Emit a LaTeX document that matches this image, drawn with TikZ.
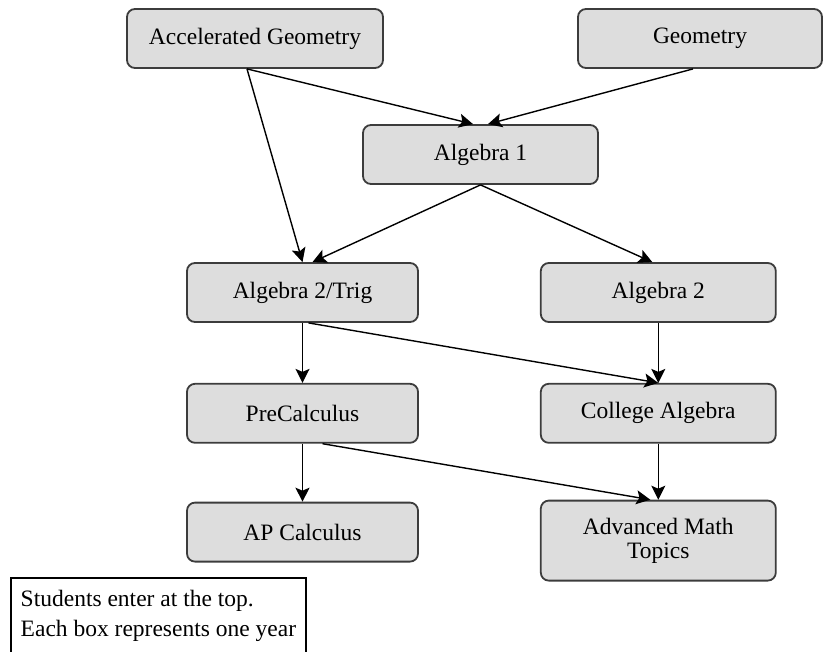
\documentclass[tikz,border=0pt]{standalone}
\usepackage{fontspec}
\setmainfont{Liberation Serif}
\usepackage{tikz}
\usetikzlibrary{positioning,arrows.meta}
\definecolor{boxgray}{RGB}{221,221,221}
\definecolor{edgegray}{RGB}{60,60,60}

\begin{document}
\begin{tikzpicture}[
    x=0.5pt, y=-0.5pt,
    node distance=30pt,
    course/.style={rectangle, rounded corners=4pt, draw=edgegray, line width=0.9pt, fill=boxgray, minimum width=115.5pt, minimum height=29.5pt, inner sep=0pt, align=center, font=\fontsize{11.75}{12}\selectfont},
    notebox/.style={rectangle, draw=black, line width=0.9pt, anchor=north west, minimum width=147.5pt, inner xsep=3pt, inner ysep=6pt, text depth=20pt, align=left, font=\fontsize{11.75}{15}\selectfont},
    arrow/.style={-{Stealth[length=7pt,width=7pt,inset=1.5pt]}, line width=0.7pt}
]
    \useasboundingbox (0,0) rectangle (825,652);

    % Entry courses
    \node[course, minimum width=128pt] (accgeo) at (255,38.5) {Accelerated Geometry};
    \node[course, minimum width=122pt] (geo) at (700,38.5) {Geometry};
    \node[course, minimum width=117.5pt] (algone) at (480.5,154.5) {Algebra 1};

    % Second year
    \node[course] (algtrig) at (302.5,292.5) {Algebra 2/Trig};
    \node[course, minimum width=117.5pt, right=60.5pt of algtrig] (algtwo) {Algebra 2};

    % Third year
    \node[course, below=30pt of algtrig] (precalc) {PreCalculus};
    \node[course, minimum width=117.5pt, below=30pt of algtwo] (colalg) {College Algebra};

    % Last year
    \node[course, below=29pt of precalc] (apcalc) {AP Calculus};
    \node[course, minimum width=117.5pt, minimum height=40pt, below=28pt of colalg] (advmath) {Advanced Math\\Topics};

    % Note
    \node[notebox] (note) at (10,577) {Students enter at the top.\\Each box represents one year};

    % Arrows
    \draw[arrow] ([xshift=-4pt]accgeo.south) -- ([xshift=-3.75pt]algone.north);
    \draw[arrow] ([xshift=-4pt]accgeo.south) -- (algtrig.north);
    \draw[arrow] ([xshift=-3.5pt]geo.south) -- ([xshift=3.75pt]algone.north);
    \draw[arrow] (algone.south) -- ([xshift=5pt]algtrig.north);
    \draw[arrow] (algone.south) -- ([xshift=-3pt]algtwo.north);
    \draw[arrow] (algtrig.south) -- (precalc.north);
    \draw[arrow] ([xshift=3pt]algtrig.south) -- (colalg.north);
    \draw[arrow] (algtwo.south) -- (colalg.north);
    \draw[arrow] (precalc.south) -- (apcalc.north);
    \draw[arrow] ([xshift=10pt]precalc.south) -- ([xshift=-4pt]advmath.north);
    \draw[arrow] (colalg.south) -- (advmath.north);
\end{tikzpicture}
\end{document}
